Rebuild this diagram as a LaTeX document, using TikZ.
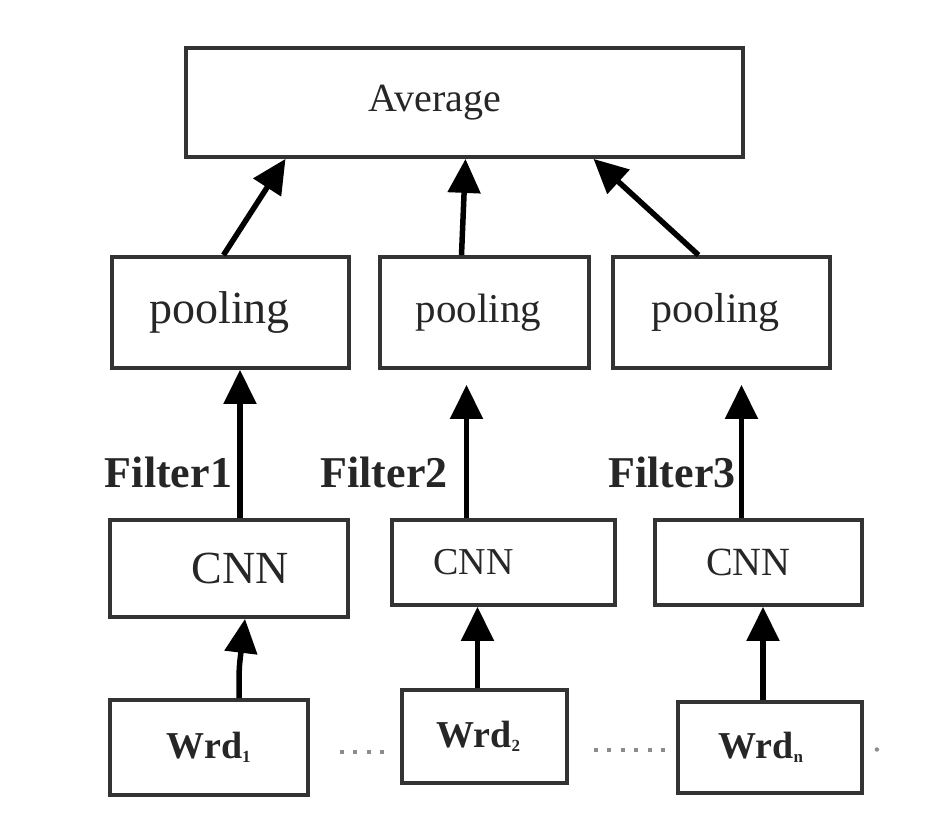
\documentclass[tikz,border=0pt]{standalone}
\usepackage{fontspec}
\setmainfont{Liberation Serif}
\usepackage{xcolor}
\usetikzlibrary{arrows.meta, calc}
\colorlet{boxgray}{black!80}
\colorlet{dotgray}{black!45}
\newcommand{\fs}[1]{\fontsize{#1}{#1}\selectfont}
\newcommand{\wsub}[1]{\textsubscript{\fs{17}#1}}
\tikzset{
    box/.style={draw=boxgray, line width=3.8pt, inner sep=0pt, text=black!85},
    uparrow/.style={line width=5.5pt, -{Triangle[length=34pt, width=32pt]}},
    dots/.style={dotgray, line width=4pt, dash pattern=on 4pt off 9.5pt}
}

\begin{document}
\begin{tikzpicture}[x=1pt, y=-1pt]
        \useasboundingbox (0,0) rectangle (940,826);

        \node[box, minimum width=557pt, minimum height=109pt, font=\fs{40}] (avg) at (464.5,102.5) {Average\hspace*{59pt}};

        \node[box, minimum width=237pt, minimum height=111pt, font=\fs{46}] (pool1) at (230.5,312.5) {pooling\hspace*{22pt}};
        \node[box, minimum width=209pt, minimum height=111pt, font=\fs{41}] (pool2) at (484.5,312.5) {pooling\hspace*{12pt}};
        \node[box, minimum width=217pt, minimum height=111pt, font=\fs{42}] (pool3) at (721.5,312.5) {pooling\hspace*{12pt}};

        \node[box, minimum width=238pt, minimum height=97pt, font=\fs{46}] (cnn1) at (229,568.5) {\hspace*{22pt}CNN};
        \node[box, minimum width=223pt, minimum height=85pt, font=\fs{38}] (cnn2) at (503.5,562.5) {CNN\hspace*{60pt}};
        \node[box, minimum width=207pt, minimum height=85pt, font=\fs{40}] (cnn3) at (758.5,562.5) {CNN\hspace*{20pt}};

        \node[box, minimum width=198pt, minimum height=95pt, font=\fs{38}\bfseries] (wrd1) at (209,747.5) {Wrd\wsub{1}};
        \node[box, minimum width=165pt, minimum height=93pt, font=\fs{38}\bfseries] (wrd2) at (484.5,736.5) {Wrd\wsub{2}\hspace*{12pt}};
        \node[box, minimum width=184pt, minimum height=91pt, font=\fs{38}\bfseries] (wrd3) at (770,747.5) {Wrd\wsub{n}\hspace*{18pt}};

        \node[anchor=base, font=\fs{44}\bfseries, text=black!85] (f1) at (168.5,487) {Filter1};
        \node[anchor=base, font=\fs{44}\bfseries, text=black!85] (f2) at (384,487) {Filter2};
        \node[anchor=base, font=\fs{44}\bfseries, text=black!85] (f3) at (672,487) {Filter3};

        \draw[uparrow] ([xshift=-7pt]pool1.north) -- ([xshift=-179pt]avg.south);
        \draw[uparrow] ([xshift=-23pt]pool2.north) -- ([xshift=1pt]avg.south);
        \draw[uparrow] ([xshift=-23pt]pool3.north) -- ([xshift=129pt]avg.south);

        \draw[uparrow] ([xshift=11pt]cnn1.north) -- ([xshift=11pt]cnn1.north |- pool1.south);
        \draw[uparrow, shorten >=15pt] ([xshift=-37pt]cnn2.north) -- ([xshift=-37pt]cnn2.north |- pool2.south);
        \draw[uparrow, shorten >=15pt] ([xshift=-17pt]cnn3.north) -- ([xshift=-17pt]cnn3.north |- pool3.south);

        \draw[uparrow] ([xshift=30pt]wrd1.north) .. controls ([xshift=30pt,yshift=30pt]wrd1.north) .. ([xshift=16pt]cnn1.south);
        \draw[uparrow] ([xshift=-7pt]wrd2.north) -- ([xshift=-7pt]wrd2.north |- cnn2.south);
        \draw[uparrow] ([xshift=-7pt]wrd3.north) -- ([xshift=-7pt]wrd3.north |- cnn3.south);

        \draw[dots] ([xshift=30pt,yshift=-4pt]wrd1.east) -- ([xshift=-8pt,yshift=-4pt]wrd1.east -| wrd2.west);
        \draw[dots] ([xshift=25pt,yshift=-2pt]wrd2.east |- wrd3.west) -- ([xshift=-10pt,yshift=-2pt]wrd3.west);
        \fill[dotgray] ([xshift=13pt,yshift=-2pt]wrd3.east) circle (2.2pt);

    \end{tikzpicture}
\end{document}
